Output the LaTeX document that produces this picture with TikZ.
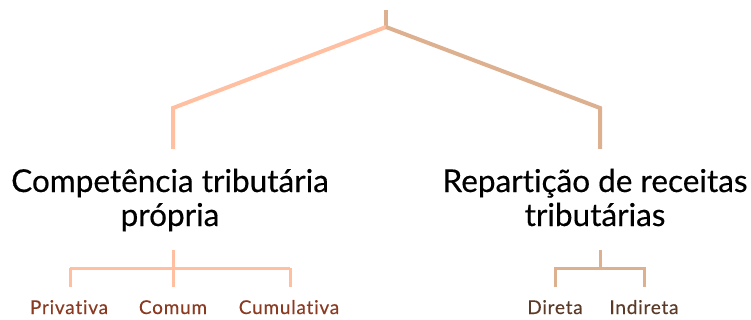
\documentclass[tikz,border=0pt]{standalone}
\usepackage{fontspec}
\setmainfont{Lato}[Ligatures=NoCommon]
\newfontfamily\titlefont{Lato}[Ligatures=NoCommon,FakeBold=0.4]
\newfontfamily\leaffont{Lato}[Ligatures=NoCommon,FakeBold=0.3,LetterSpace=4]
\definecolor{peach}{HTML}{FFBFA0}
\definecolor{tan}{HTML}{DDB090}
\definecolor{lbrown}{HTML}{8B3A22}
\definecolor{dbrown}{HTML}{5C3A28}
\begin{document}
\begin{tikzpicture}[x=1pt,y=-1pt,
  mainline/.style={line width=4pt},
  subline/.style={line width=3pt},
  title/.style={font=\titlefont\fontsize{31.5}{34}\selectfont, align=center, inner sep=0pt, anchor=base, text=black},
  leaf/.style={font=\leaffont\fontsize{19}{22}\selectfont, inner sep=0pt, anchor=base}]
\useasboundingbox (0,0) rectangle (751,320);
% top tree
\coordinate (top) at (386,10);
\coordinate (j) at (386,27);
\coordinate (lc) at (173,108);
\coordinate (le) at (173,149);
\coordinate (rc) at (600,108);
\coordinate (re) at (600,149);
\draw[mainline,tan] (top) -- (j);
\draw[mainline,peach,line join=miter] (j) -- (lc) -- (le);
\draw[mainline,tan,line join=miter] (j) -- (rc) -- (re);
% titles
\node[title] (comp) at (170,226) {Competência tributária\\própria};
\node[title] (rep) at (595,226) {Repartição de receitas\\tributárias};
% left subtree
\coordinate (ls) at (173,250);
\coordinate (lj) at (173,268);
\coordinate (l1) at (70,268);
\coordinate (l3) at (290,268);
\node[leaf,text=lbrown] (priv) at (69,314) {Privativa};
\node[leaf,text=lbrown] (com) at (173,314) {Comum};
\node[leaf,text=lbrown] (cum) at (289,314) {Cumulativa};
\draw[subline,peach] (ls) -- (lj);
\draw[subline,peach] (l1) -- (l3);
\draw[subline,peach] (l1) -- (70,287);
\draw[subline,peach] (lj) -- (173,287);
\draw[subline,peach] (l3) -- (290,287);
% right subtree
\coordinate (rs) at (600,250);
\coordinate (rj) at (600,268);
\coordinate (r1) at (555,268);
\coordinate (r2) at (644,268);
\node[leaf,text=dbrown] (dir) at (555,314) {Direta};
\node[leaf,text=dbrown] (ind) at (644,314) {Indireta};
\draw[subline,tan] (rs) -- (rj);
\draw[subline,tan,line join=miter] (555,287) -- (r1) -- (r2) -- (644,287);
\end{tikzpicture}
\end{document}
